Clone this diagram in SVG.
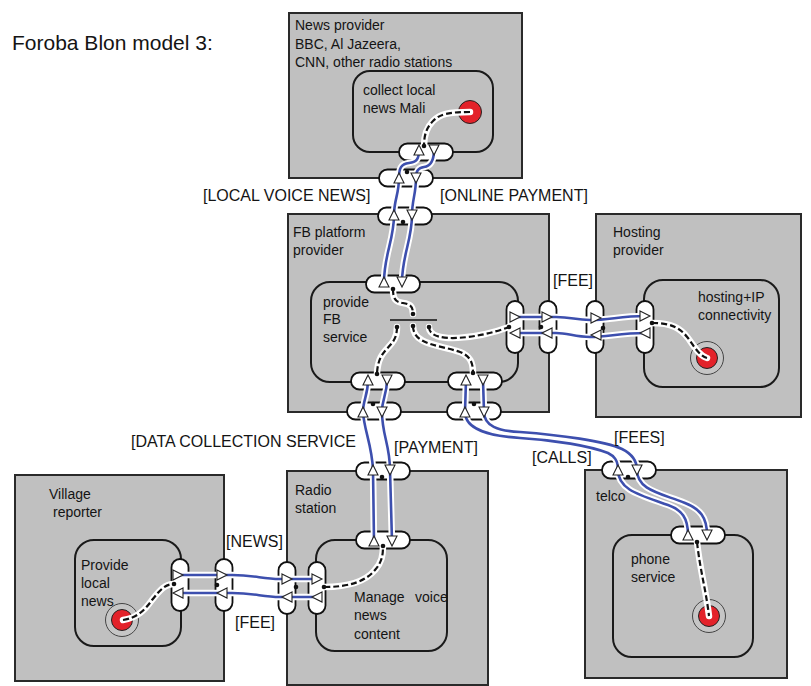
<svg xmlns="http://www.w3.org/2000/svg" xmlns:xlink="http://www.w3.org/1999/xlink" width="811" height="686" viewBox="0 0 811 686">
  <style>
    .box { fill: #c0c0c0; stroke: #2a2a2a; stroke-width: 2; }
    .inner { fill: #c0c0c0; stroke: #1a1a1a; stroke-width: 2; }
    .port { fill: #ffffff; stroke: #111111; stroke-width: 1.8; }
    .tri { fill: #ffffff; stroke: #222222; stroke-width: 1.1; stroke-linejoin: miter; }
    .halo { fill: none; stroke: #ffffff; stroke-width: 6.5; stroke-linecap: round; stroke-linejoin: round; }
    .flow { fill: none; stroke: #3d4fae; stroke-width: 2.6; stroke-linecap: round; }
    .dash { fill: none; stroke: #111111; stroke-width: 2.2; stroke-dasharray: 6 3; }
    .dot { fill: #111111; }
    .red { fill: #e3222a; stroke: #222222; stroke-width: 1; }
    .ring { fill: #c6c6c6; stroke: #444444; stroke-width: 1; }
    text { font-family: "Liberation Sans", Arial, sans-serif; fill: #141414; }
    .t14 { font-size: 14px; }
    .t16 { font-size: 16px; }
    .title { font-size: 21px; }
  </style>
  <defs>
    <path id="tu" class="tri" d="M0,-5 L5,5 L-5,5 Z"/>
    <path id="td" class="tri" d="M-5,-5 L5,-5 L0,5 Z"/>
    <path id="tr" class="tri" d="M-5,-5 L5,0 L-5,5 Z"/>
    <path id="tl" class="tri" d="M5,-5 L-5,0 L5,5 Z"/>
    <rect id="ph" class="port" x="-27" y="-8.5" width="54" height="17" rx="8.5"/>
    <rect id="pv" class="port" x="-8.5" y="-26" width="17" height="52" rx="8.5"/>

    <!-- flow paths (blue) -->
    <path id="f1" d="M384,282 C384,255 394,240 394,215 C394,200 399,194 399,178 C399,168 401,164 409,163 C416,162 419,160 419,150"/>
    <path id="f2" d="M434,150 C434,160 431,166 424,167 C418,168 416,171 416,178 C416,194 412,200 412,215 C412,240 402,256 402,282"/>
    <path id="f3" d="M374,541 L373,470 C372,445 364,430 363,412 C363,400 368,395 368,380"/>
    <path id="f4" d="M387,380 C387,395 382,398 382,412 C382,435 390,445 390,470 L392,541"/>
    <path id="f5" d="M688,535 C688,518 682,510 668,505 C640,495 618,490 618,470 C618,460 614,456 608,453 C590,446 555,440 520,438 C490,436 465,430 465,412 L466,380"/>
    <path id="f6" d="M483,380 L484,412 C484,426 498,431 520,432 C560,435 605,441 622,449 C632,454 637,460 637,470 C637,490 660,493 685,503 C700,509 707,517 707,535"/>
    <path id="f7" d="M515,317 L556,317 C572,317 575,320 590,320 C610,320 620,316 645,316"/>
    <path id="f8" d="M645,333 C620,333 608,337 590,337 C575,337 568,333 556,333 L515,333"/>
    <path id="f9" d="M178,575 L232,575 C255,575 262,579 280,579 L317,579"/>
    <path id="f10" d="M317,597 L280,597 C262,597 255,593 232,593 L178,593"/>

    <!-- control paths (dashed) -->
    <path id="d1" d="M470,112 C448,112 440,114 433,121 C426,128 424,136 424,146"/>
    <path id="d2" d="M652,323 C672,323 680,328 688,338 C695,348 700,356 707,358"/>
    <path id="d3" d="M123,620 C137,618 145,610 152,600 C160,590 165,584 174,584"/>
    <path id="d4" d="M324,587 C348,587 365,582 375,570 C382,562 383,555 383,546"/>
    <path id="d5" d="M697,542 C700,570 706,590 709,616"/>
    <path id="d6" d="M393,289 C393,300 396,302 403,303 C410,304 413,306 413,314"/>
    <path id="d7" d="M397,327 C397,350 378,345 377,374"/>
    <path id="d8" d="M413,326 C413,345 440,345 460,352 C470,356 473,362 473,373"/>
    <path id="d9" d="M429,327 C429,345 480,338 509,327"/>
  </defs>

  <rect width="811" height="686" fill="#ffffff"/>

  <text class="title" x="12" y="50">Foroba Blon model 3:</text>

  <!-- actors, their services and boundary ports -->
  <g id="news-provider">
    <rect class="box" x="289" y="13" width="233" height="165"/>
    <text class="t14" x="295" y="30">News provider</text>
    <text class="t14" x="295" y="48.5">BBC, Al Jazeera,</text>
    <text class="t14" x="295" y="67">CNN, other radio stations</text>
    <rect class="inner" x="353" y="71" width="140" height="81" rx="17"/>
    <text class="t14" x="363" y="95">collect local</text>
    <text class="t14" x="363" y="113">news Mali</text>
    <circle class="red" cx="470" cy="112" r="11.5"/>
    <use xlink:href="#ph" x="426" y="152"/>
    <use xlink:href="#ph" x="406" y="178"/>
  </g>

  <g id="fb-platform">
    <rect class="box" x="288" y="214" width="261" height="198"/>
    <text class="t14" x="293" y="237">FB platform</text>
    <text class="t14" x="293" y="255">provider</text>
    <rect class="inner" x="311" y="282" width="207" height="100" rx="19"/>
    <text class="t14" x="323" y="307">provide</text>
    <text class="t14" x="323" y="324">FB</text>
    <text class="t14" x="323" y="342">service</text>
    <line x1="390" y1="320" x2="437" y2="320" stroke="#111" stroke-width="1.5"/>
    <use xlink:href="#ph" x="405" y="216"/>
    <use xlink:href="#ph" x="393" y="284"/>
    <use xlink:href="#ph" x="378" y="381"/>
    <use xlink:href="#ph" x="475" y="381"/>
    <use xlink:href="#ph" x="374" y="411"/>
    <use xlink:href="#ph" x="474" y="411"/>
    <use xlink:href="#pv" x="515" y="327"/>
    <use xlink:href="#pv" x="548" y="327"/>
  </g>

  <g id="hosting-provider">
    <rect class="box" x="596" y="214" width="205" height="203"/>
    <text class="t14" x="613" y="237">Hosting</text>
    <text class="t14" x="613" y="255">provider</text>
    <rect class="inner" x="644" y="280" width="135" height="107" rx="19"/>
    <text class="t14" x="698" y="302">hosting+IP</text>
    <text class="t14" x="698" y="320">connectivity</text>
    <circle class="ring" cx="707" cy="358" r="16.5"/>
    <circle class="red" cx="707" cy="358" r="10.5"/>
    <use xlink:href="#pv" x="595" y="327"/>
    <use xlink:href="#pv" x="645" y="327"/>
  </g>

  <g id="village-reporter">
    <rect class="box" x="15" y="475" width="209" height="206"/>
    <text class="t14" x="49" y="499">Village</text>
    <text class="t14" x="53" y="517">reporter</text>
    <rect class="inner" x="75" y="540" width="106" height="106" rx="19"/>
    <text class="t14" x="81" y="570">Provide</text>
    <text class="t14" x="81" y="588">local</text>
    <text class="t14" x="81" y="606">news</text>
    <circle class="ring" cx="122" cy="620" r="16.5"/>
    <circle class="red" cx="122" cy="620" r="10.5"/>
    <use xlink:href="#pv" x="180" y="585"/>
    <use xlink:href="#pv" x="224" y="585"/>
  </g>

  <g id="radio-station">
    <rect class="box" x="287" y="471" width="201" height="214"/>
    <text class="t14" x="295" y="495">Radio</text>
    <text class="t14" x="295" y="513">station</text>
    <rect class="inner" x="316" y="540" width="131" height="111" rx="19"/>
    <text class="t14" x="354" y="602">Manage</text>
    <text class="t14" x="415" y="602">voice</text>
    <text class="t14" x="354" y="620">news</text>
    <text class="t14" x="354" y="639">content</text>
    <use xlink:href="#ph" x="383" y="471"/>
    <use xlink:href="#ph" x="383" y="540"/>
    <use xlink:href="#pv" x="287" y="588"/>
    <use xlink:href="#pv" x="317" y="588"/>
  </g>

  <g id="telco">
    <rect class="box" x="585" y="470" width="202" height="208"/>
    <text class="t14" x="596" y="501">telco</text>
    <rect class="inner" x="613" y="535" width="140" height="122" rx="19"/>
    <text class="t14" x="631" y="564">phone</text>
    <text class="t14" x="631" y="582">service</text>
    <circle class="ring" cx="709" cy="616" r="16.5"/>
    <circle class="red" cx="709" cy="616" r="10.5"/>
    <use xlink:href="#ph" x="629" y="470"/>
    <use xlink:href="#ph" x="698" y="535"/>
  </g>

  <!-- connectors: value flows (blue) and service links (dashed) -->
  <g id="connectors">
    <use xlink:href="#f1" class="halo"/><use xlink:href="#f1" class="flow"/>
    <use xlink:href="#f2" class="halo"/><use xlink:href="#f2" class="flow"/>
    <use xlink:href="#f3" class="halo"/><use xlink:href="#f3" class="flow"/>
    <use xlink:href="#f4" class="halo"/><use xlink:href="#f4" class="flow"/>
    <use xlink:href="#f5" class="halo"/><use xlink:href="#f5" class="flow"/>
    <use xlink:href="#f6" class="halo"/><use xlink:href="#f6" class="flow"/>
    <use xlink:href="#f7" class="halo"/><use xlink:href="#f7" class="flow"/>
    <use xlink:href="#f8" class="halo"/><use xlink:href="#f8" class="flow"/>
    <use xlink:href="#f9" class="halo"/><use xlink:href="#f9" class="flow"/>
    <use xlink:href="#f10" class="halo"/><use xlink:href="#f10" class="flow"/>

    <use xlink:href="#d1" class="halo"/><use xlink:href="#d1" class="dash"/>
    <use xlink:href="#d2" class="halo"/><use xlink:href="#d2" class="dash"/>
    <use xlink:href="#d3" class="halo"/><use xlink:href="#d3" class="dash"/>
    <use xlink:href="#d4" class="halo"/><use xlink:href="#d4" class="dash"/>
    <use xlink:href="#d5" class="halo"/><use xlink:href="#d5" class="dash"/>
    <use xlink:href="#d6" class="halo"/><use xlink:href="#d6" class="dash"/>
    <use xlink:href="#d7" class="halo"/><use xlink:href="#d7" class="dash"/>
    <use xlink:href="#d8" class="halo"/><use xlink:href="#d8" class="dash"/>
    <use xlink:href="#d9" class="halo"/><use xlink:href="#d9" class="dash"/>
  </g>

  <!-- value-port direction marks and connection points -->
  <g id="port-marks">
    <use xlink:href="#tu" x="419" y="150"/><use xlink:href="#td" x="434" y="150"/>
    <use xlink:href="#tu" x="399" y="178"/><use xlink:href="#td" x="416" y="178"/>
    <use xlink:href="#tu" x="394" y="215"/><use xlink:href="#td" x="412" y="215"/>
    <use xlink:href="#tu" x="384" y="282"/><use xlink:href="#td" x="402" y="282"/>
    <use xlink:href="#tu" x="368" y="380"/><use xlink:href="#td" x="387" y="380"/>
    <use xlink:href="#tu" x="363" y="412"/><use xlink:href="#td" x="382" y="412"/>
    <use xlink:href="#tu" x="466" y="380"/><use xlink:href="#td" x="483" y="380"/>
    <use xlink:href="#tu" x="465" y="412"/><use xlink:href="#td" x="484" y="412"/>
    <use xlink:href="#tu" x="373" y="470"/><use xlink:href="#td" x="390" y="470"/>
    <use xlink:href="#tu" x="374" y="541"/><use xlink:href="#td" x="392" y="541"/>
    <use xlink:href="#tu" x="618" y="470"/><use xlink:href="#td" x="637" y="470"/>
    <use xlink:href="#tu" x="688" y="535"/><use xlink:href="#td" x="707" y="535"/>

    <use xlink:href="#tr" x="515" y="317"/><use xlink:href="#tl" x="515" y="333"/>
    <use xlink:href="#tr" x="547" y="317"/><use xlink:href="#tl" x="547" y="333"/>
    <use xlink:href="#tr" x="596" y="318"/><use xlink:href="#tl" x="596" y="335"/>
    <use xlink:href="#tr" x="645" y="316"/><use xlink:href="#tl" x="645" y="333"/>
    <use xlink:href="#tr" x="178" y="575"/><use xlink:href="#tl" x="178" y="593"/>
    <use xlink:href="#tr" x="222" y="575"/><use xlink:href="#tl" x="222" y="593"/>
    <use xlink:href="#tr" x="287" y="579"/><use xlink:href="#tl" x="287" y="597"/>
    <use xlink:href="#tr" x="317" y="579"/><use xlink:href="#tl" x="317" y="597"/>

    <circle class="dot" cx="424" cy="146" r="2.3"/>
    <circle class="dot" cx="407" cy="172" r="2.3"/>
    <circle class="dot" cx="403" cy="222" r="2.3"/>
    <circle class="dot" cx="393" cy="289" r="2.3"/>
    <circle class="dot" cx="413" cy="314" r="2.3"/>
    <circle class="dot" cx="397" cy="327" r="2.3"/>
    <circle class="dot" cx="413" cy="326" r="2.3"/>
    <circle class="dot" cx="429" cy="327" r="2.3"/>
    <circle class="dot" cx="377" cy="374" r="2.3"/>
    <circle class="dot" cx="473" cy="373" r="2.3"/>
    <circle class="dot" cx="373" cy="404" r="2.3"/>
    <circle class="dot" cx="474" cy="404" r="2.3"/>
    <circle class="dot" cx="509" cy="327" r="2.3"/>
    <circle class="dot" cx="541" cy="327" r="2.3"/>
    <circle class="dot" cx="603" cy="328" r="2.3"/>
    <circle class="dot" cx="652" cy="323" r="2.3"/>
    <circle class="dot" cx="382" cy="477" r="2.3"/>
    <circle class="dot" cx="383" cy="546" r="2.3"/>
    <circle class="dot" cx="296" cy="587" r="2.3"/>
    <circle class="dot" cx="324" cy="587" r="2.3"/>
    <circle class="dot" cx="217" cy="585" r="2.3"/>
    <circle class="dot" cx="174" cy="584" r="2.3"/>
    <circle class="dot" cx="628" cy="477" r="2.3"/>
    <circle class="dot" cx="697" cy="542" r="2.3"/>
  </g>

  <!-- value object labels -->
  <g id="flow-labels">
    <text class="t16" x="203" y="201">[LOCAL VOICE NEWS]</text>
    <text class="t16" x="440" y="201">[ONLINE PAYMENT]</text>
    <text class="t16" x="553" y="286">[FEE]</text>
    <text class="t16" x="131" y="447">[DATA COLLECTION SERVICE</text>
    <text class="t16" x="394" y="453">[PAYMENT]</text>
    <text class="t16" x="614" y="443">[FEES]</text>
    <text class="t16" x="532" y="463">[CALLS]</text>
    <text class="t16" x="226" y="547">[NEWS]</text>
    <text class="t16" x="235" y="628">[FEE]</text>
  </g>
</svg>
